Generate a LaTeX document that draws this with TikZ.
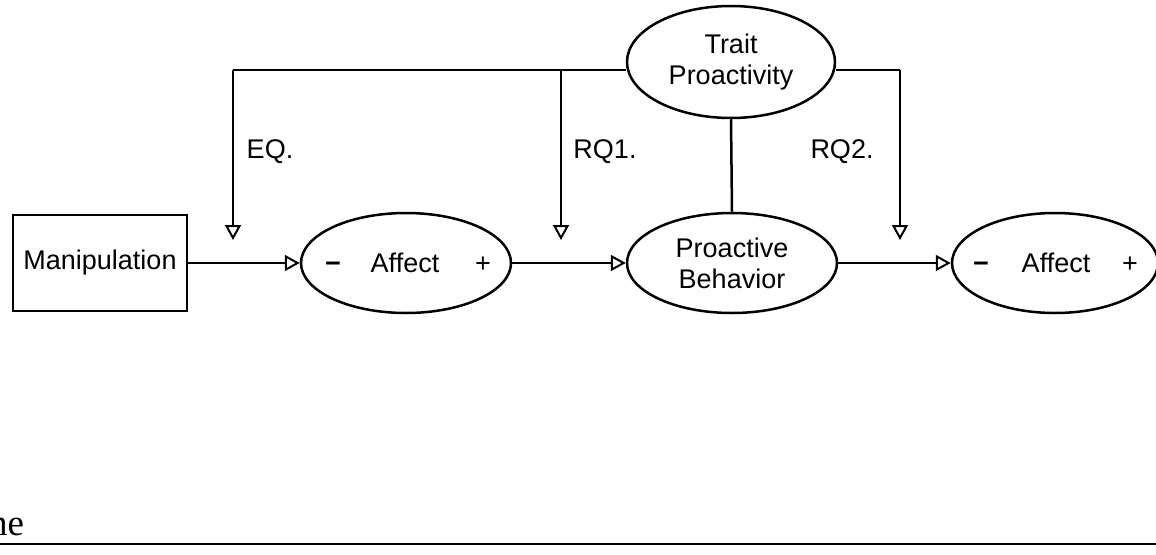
\documentclass[tikz,border=0pt]{standalone}
\usepackage{fontspec}
\setmainfont{Liberation Sans}
\newfontfamily\serifnote{Liberation Serif}
\usetikzlibrary{arrows.meta,shapes.geometric}
\begin{document}
\begin{tikzpicture}[x=1pt,y=-1pt,
  line width=2.5pt,
  lbl/.style={font=\fontsize{27}{31}\selectfont},
  sgn/.style={font=\fontsize{27}{31}\selectfont,anchor=base,inner sep=0pt},
  ell/.style={draw,ellipse,inner sep=0pt,font=\fontsize{27}{31}\selectfont,align=center},
  arr/.style={-{Triangle[open,length=15pt,width=16pt,line width=2pt]}}]
\useasboundingbox (0,0) rectangle (1156,554);
\node[draw,line width=1.4pt,minimum width=174pt,minimum height=96pt,lbl] (man) at (100,263) {Manipulation};
\node[ell,minimum width=210pt,minimum height=100pt] (aff1) at (406,263) {};
\node[sgn] (m1) at (333,272) {\bfseries −};
\node[sgn] (a1) at (405,272) {Affect};
\node[sgn] (p1) at (483,272) {+};
\node[ell,minimum width=210pt,minimum height=100pt] (pb) at (732,263) {Proactive\\Behavior};
\node[ell,minimum width=206pt,minimum height=100pt] (aff2) at (1055,263) {};
\node[sgn] (m2) at (981,272) {\bfseries −};
\node[sgn] (a2) at (1056,272) {Affect};
\node[sgn] (p2) at (1130,272) {+};
\node[ell,minimum width=208pt,minimum height=112pt] (tp) at (731,62) {Trait\\Proactivity};
\coordinate (c1) at (233,70);
\coordinate (c2) at (561,70);
\coordinate (c3) at (900,70);
\coordinate (e1) at (233,240);
\coordinate (e2) at (561,240);
\coordinate (e3) at (900,240);
\draw (tp.west |- c1) -- (c1);
\draw (tp.east |- c3) -- (c3);
\draw[arr] (c1) -- (e1);
\draw[arr] (c2) -- (e2);
\draw[arr] (c3) -- (e3);
\draw (tp.south) -- (pb.north);
\draw[arr] (man.east) -- (aff1.west);
\draw[arr] (aff1.east) -- (pb.west);
\draw[arr] (pb.east) -- (aff2.west);
\node[lbl] (eq) at (270,152) {EQ.};
\node[lbl] (rq1) at (605,152) {RQ1.};
\node[lbl] (rq2) at (842,152) {RQ2.};
\node[font=\serifnote\fontsize{37}{40}\selectfont,anchor=base west,inner sep=0pt] (ne) at (-12,535) {ne};
\coordinate (b1) at (0,544);
\coordinate (b2) at (1156,544);
\draw[line width=2.4pt] (b1) -- (b2);
\end{tikzpicture}
\end{document}
